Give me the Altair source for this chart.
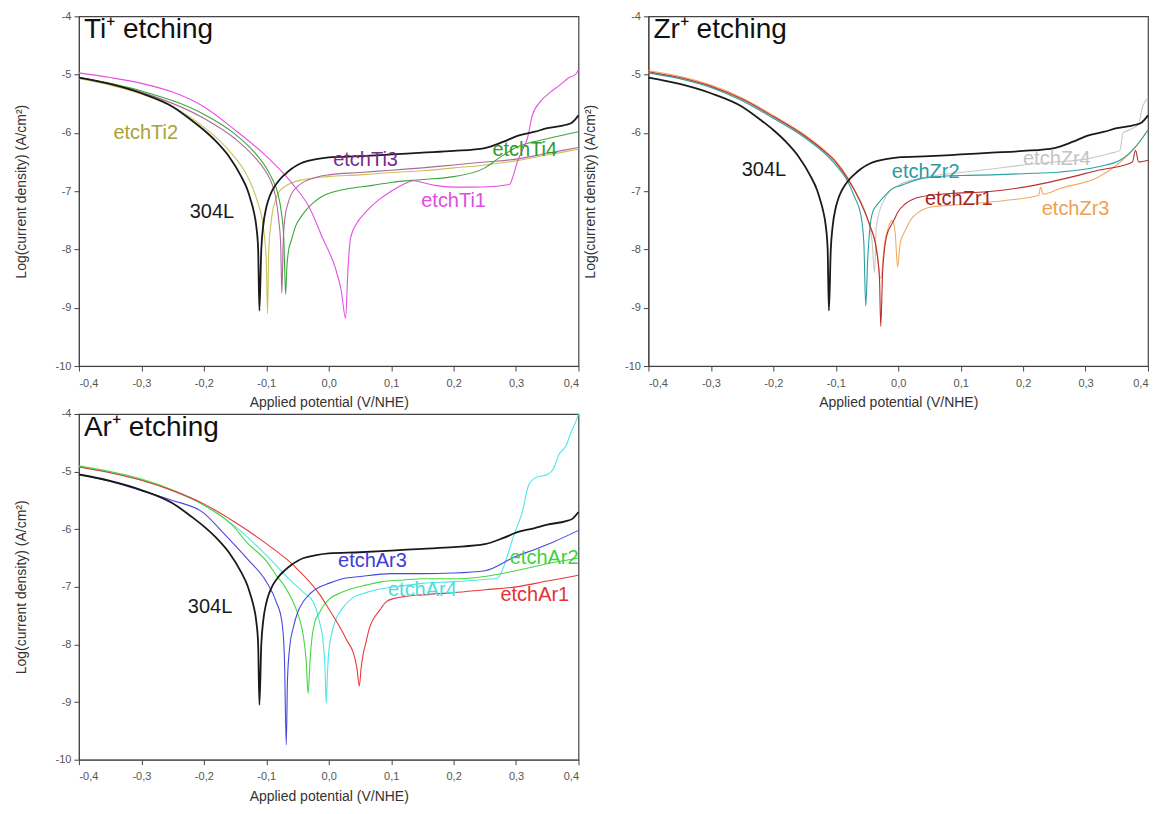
import altair as alt
import pandas as pd

FONT = "Liberation Sans"

# ---------------- reference 304L (same in every panel) ----------------
E_304L = [-0.4, -0.35, -0.3, -0.25, -0.22, -0.2, -0.18, -0.16, -0.14, -0.13, -0.125, -0.12, -0.116, -0.113,
          -0.111, -0.108, -0.105, -0.1, -0.095, -0.09, -0.08, -0.07, -0.06, -0.05, -0.04, -0.02, 0.0,
          0.05, 0.1, 0.15, 0.2, 0.25, 0.28, 0.3, 0.33, 0.35, 0.38, 0.39, 0.4]
L_304L = [-5.05, -5.16, -5.32, -5.55, -5.78, -5.95, -6.15, -6.4, -6.75, -6.98, -7.15, -7.35, -7.6, -8.0,
          -9.05, -8.0, -7.6, -7.28, -7.1, -6.98, -6.82, -6.71, -6.62, -6.55, -6.5, -6.45, -6.42,
          -6.4, -6.37, -6.34, -6.31, -6.26, -6.15, -6.06, -5.98, -5.92, -5.86, -5.82, -5.7]

# ---------------- Ti+ etching ----------------
E_TI1 = [-0.4, -0.35, -0.3, -0.25, -0.2, -0.15, -0.1, -0.06, -0.03, -0.01, 0.01, 0.02, 0.027, 0.031, 0.035,
         0.045, 0.06, 0.08, 0.1, 0.12, 0.136, 0.15, 0.17, 0.2, 0.23, 0.26, 0.29, 0.295, 0.302, 0.31, 0.318,
         0.326, 0.34, 0.355, 0.37, 0.385, 0.395, 0.4]
L_TI1 = [-4.97, -5.05, -5.15, -5.3, -5.55, -5.95, -6.4, -6.85, -7.3, -7.8, -8.3, -8.7, -9.18, -8.3, -7.8,
         -7.55, -7.35, -7.15, -7.0, -6.88, -6.82, -6.85, -6.9, -6.93, -6.93, -6.92, -6.88, -6.75, -6.5,
         -6.3, -6.1, -5.7, -5.45, -5.3, -5.18, -5.05, -5.0, -4.92]
E_TI2 = [-0.4, -0.35, -0.3, -0.25, -0.2, -0.16, -0.13, -0.115, -0.105, -0.1, -0.098, -0.096,
         -0.093, -0.09, -0.085, -0.08, -0.07, -0.06, -0.04, -0.02, 0.0, 0.05, 0.1, 0.15, 0.2, 0.25, 0.3,
         0.35, 0.4]
L_TI2 = [-5.07, -5.18, -5.33, -5.55, -5.9, -6.3, -6.75, -7.15, -7.6, -8.2, -9.1, -8.0, -7.6,
         -7.35, -7.15, -7.02, -6.92, -6.86, -6.8, -6.77, -6.75, -6.72, -6.68, -6.65, -6.6, -6.55, -6.48,
         -6.38, -6.28]
E_TI3 = [-0.4, -0.3, -0.2, -0.15, -0.12, -0.1, -0.09, -0.085, -0.08, -0.077, -0.075, -0.073, -0.07, -0.065,
         -0.06, -0.05, -0.04, -0.02, 0.0, 0.05, 0.1, 0.15, 0.2, 0.25, 0.3, 0.35, 0.4]
L_TI3 = [-5.05, -5.3, -5.75, -6.1, -6.4, -6.68, -6.9, -7.1, -7.5, -7.9, -8.75, -7.9, -7.45, -7.2, -7.05,
         -6.92, -6.84, -6.76, -6.72, -6.68, -6.64, -6.6, -6.55, -6.5, -6.45, -6.35, -6.25]
E_TI4 = [-0.4, -0.3, -0.2, -0.15, -0.12, -0.1, -0.09, -0.082, -0.076, -0.072, -0.069, -0.067, -0.064, -0.06,
         -0.053, -0.045, -0.036, -0.025, -0.012, 0.0, 0.035, 0.07, 0.1, 0.15, 0.2, 0.25, 0.27, 0.3, 0.35, 0.4]
L_TI4 = [-5.05, -5.28, -5.68, -6.02, -6.32, -6.6, -6.8, -7.02, -7.35, -7.8, -8.77, -8.3, -8.0, -7.85,
         -7.6, -7.45, -7.32, -7.2, -7.1, -7.04, -6.95, -6.9, -6.85, -6.8, -6.75, -6.6, -6.45, -6.25, -6.1,
         -5.98]

# ---------------- Zr+ etching ----------------
E_ZR1 = [-0.4, -0.35, -0.3, -0.25, -0.2, -0.15, -0.12, -0.1, -0.08, -0.06, -0.045, -0.035, -0.03, -0.028,
         -0.025, -0.019, -0.012, -0.007, 0.0, 0.011, 0.035, 0.082, 0.142, 0.19, 0.231, 0.28, 0.32, 0.36,
         0.375, 0.38, 0.385, 0.4]
L_ZR1 = [-4.95, -5.05, -5.2, -5.42, -5.72, -6.05, -6.3, -6.5, -6.8, -7.2, -7.6, -8.0, -8.5, -9.32,
         -8.4, -7.79, -7.6, -7.5, -7.35, -7.22, -7.1, -7.04, -7.01, -6.95, -6.87, -6.75, -6.64, -6.56,
         -6.5, -6.3, -6.5, -6.47]
E_ZR2 = [-0.4, -0.35, -0.3, -0.25, -0.2, -0.15, -0.12, -0.1, -0.08, -0.07, -0.06, -0.055, -0.052, -0.049,
         -0.046, -0.041, -0.035, -0.025, -0.01, 0.005, 0.038, 0.053, 0.1, 0.15, 0.2, 0.26, 0.32, 0.355, 0.37,
         0.38, 0.4]
L_ZR2 = [-4.97, -5.07, -5.22, -5.45, -5.75, -6.08, -6.33, -6.55, -6.85, -7.1, -7.4, -7.9, -8.97, -8.2,
         -7.7, -7.36, -7.25, -7.12, -6.96, -6.9, -6.78, -6.76, -6.73, -6.72, -6.7, -6.67, -6.58, -6.47,
         -6.35, -6.24, -5.95]
E_ZR3 = [-0.4, -0.35, -0.3, -0.25, -0.2, -0.15, -0.12, -0.1, -0.08, -0.06, -0.045, -0.035, -0.028, -0.022,
         -0.015, -0.01, -0.005, -0.001, 0.003, 0.011, 0.023, 0.053, 0.112, 0.171, 0.225, 0.228, 0.232, 0.26,
         0.32, 0.35, 0.38, 0.4]
L_ZR3 = [-4.93, -5.03, -5.18, -5.4, -5.7, -6.03, -6.28, -6.48, -6.78, -7.2, -7.6, -7.95, -8.5, -7.9,
         -7.6, -7.5, -7.7, -8.3, -7.9, -7.68, -7.45, -7.27, -7.22, -7.16, -7.07, -6.93, -7.05, -6.95,
         -6.76, -6.55, -6.24, -5.95]
E_ZR4 = [-0.4, -0.35, -0.3, -0.25, -0.2, -0.15, -0.12, -0.1, -0.07, -0.05, -0.042, -0.038, -0.035, -0.02,
         0.0, 0.05, 0.1, 0.15, 0.2, 0.25, 0.3, 0.34, 0.355, 0.36, 0.37, 0.385, 0.39, 0.4]
L_ZR4 = [-4.96, -5.06, -5.21, -5.43, -5.73, -6.06, -6.31, -6.53, -6.98, -7.45, -7.85, -8.4, -7.6, -7.1,
         -6.9, -6.75, -6.68, -6.62, -6.55, -6.5, -6.45, -6.35, -6.3, -6.0, -5.95, -5.85, -5.6, -5.4]

# ---------------- Ar+ etching ----------------
E_AR1 = [-0.4, -0.35, -0.3, -0.25, -0.2, -0.15, -0.1, -0.057, -0.014, 0.0, 0.022, 0.03, 0.039, 0.045, 0.049,
         0.052, 0.055, 0.06, 0.065, 0.072, 0.08, 0.092, 0.105, 0.12, 0.148, 0.2, 0.25, 0.3, 0.35, 0.4]
L_AR1 = [-4.92, -5.02, -5.15, -5.33, -5.56, -5.88, -6.25, -6.62, -7.14, -7.38, -7.78, -7.95, -8.13, -8.4,
         -8.72, -8.4, -8.18, -7.95, -7.72, -7.55, -7.43, -7.26, -7.2, -7.17, -7.14, -7.1, -7.05, -7.0,
         -6.9, -6.8]
E_AR2 = [-0.4, -0.35, -0.3, -0.25, -0.2, -0.15, -0.132, -0.1, -0.084, -0.07, -0.057, -0.047, -0.041, -0.036,
         -0.033, -0.03, -0.027, -0.022, -0.015, -0.01, 0.0, 0.02, 0.037, 0.06, 0.086, 0.12, 0.15, 0.2, 0.25,
         0.3, 0.35, 0.4]
L_AR2 = [-4.9, -5.0, -5.13, -5.32, -5.58, -5.98, -6.22, -6.55, -6.8, -7.0, -7.26, -7.55, -7.83, -8.3,
         -8.85, -8.3, -7.9, -7.6, -7.45, -7.35, -7.22, -7.1, -7.03, -6.97, -6.91, -6.88, -6.86, -6.86, -6.82,
         -6.72, -6.6, -6.5]
E_AR3 = [-0.4, -0.35, -0.3, -0.25, -0.2, -0.17, -0.13, -0.1, -0.084, -0.075, -0.071, -0.068, -0.066,
         -0.062, -0.057, -0.05, -0.041, -0.03, -0.014, 0.0, 0.022, 0.05, 0.1, 0.15, 0.2, 0.25,
         0.3, 0.33, 0.36, 0.4]
L_AR3 = [-5.05, -5.17, -5.33, -5.5, -5.72, -6.05, -6.52, -6.91, -7.26, -7.6, -8.2, -9.74, -8.6,
         -8.0, -7.72, -7.45, -7.26, -7.12, -7.0, -6.94, -6.86, -6.82, -6.77, -6.77, -6.76, -6.72,
         -6.47, -6.35, -6.22, -6.02]
E_AR4 = [-0.4, -0.35, -0.3, -0.25, -0.2, -0.15, -0.1, -0.06, -0.04, -0.025, -0.015, -0.009, -0.006, -0.004,
         -0.002, 0.0, 0.005, 0.012, 0.02, 0.037, 0.06, 0.086, 0.12, 0.15, 0.2, 0.24, 0.27, 0.285, 0.295,
         0.31, 0.32, 0.332, 0.35, 0.36, 0.369, 0.38, 0.388, 0.395, 0.4]
L_AR4 = [-4.92, -5.02, -5.15, -5.33, -5.58, -5.95, -6.45, -6.9, -7.1, -7.26, -7.6, -7.95, -8.4, -9.02,
         -8.5, -8.13, -7.8, -7.55, -7.4, -7.2, -7.1, -7.03, -6.98, -6.94, -6.91, -6.88, -6.85, -6.5, -6.15,
         -5.7, -5.24, -5.1, -5.05, -4.95, -4.7, -4.55, -4.32, -4.15, -4.0]

# ---------------- annotation labels ----------------
TI_LABELS = ["304L", "etchTi2", "etchTi3", "etchTi1", "etchTi4"]
TI_LAB_X = [-0.187, -0.293, 0.059, 0.2, 0.314]
TI_LAB_Y = [-7.36, -6.0, -6.47, -7.16, -6.29]
ZR_LABELS = ["304L", "etchZr2", "etchZr1", "etchZr3", "etchZr4"]
ZR_LAB_X = [-0.215, 0.044, 0.097, 0.284, 0.254]
ZR_LAB_Y = [-6.64, -6.67, -7.13, -7.3, -6.44]
AR_LABELS = ["304L", "etchAr3", "etchAr4", "etchAr2", "etchAr1"]
AR_LAB_X = [-0.19, 0.07, 0.15, 0.345, 0.33]
AR_LAB_Y = [-7.35, -6.55, -7.05, -6.5, -7.15]

X_TICKS = [-0.4, -0.3, -0.2, -0.1, 0.0, 0.1, 0.2, 0.3, 0.4]
Y_TICKS = [-10, -9, -8, -7, -6, -5, -4]

BLACK = "#1a1a1a"

panels = [
    ("Ti⁺ etching",
     [("etchTi2", E_TI2, L_TI2, "#c9c25a"), ("etchTi3", E_TI3, L_TI3, "#b0689a"),
      ("etchTi4", E_TI4, L_TI4, "#3aa83a"), ("etchTi1", E_TI1, L_TI1, "#e650e6"),
      ("304L", E_304L, L_304L, BLACK)],
     TI_LABELS, TI_LAB_X, TI_LAB_Y, [BLACK, "#a9a238", "#7b2c8c", "#e24ce2", "#2f9a2f"], 350),
    ("Zr⁺ etching",
     [("etchZr4", E_ZR4, L_ZR4, "#c8c8c8"), ("etchZr3", E_ZR3, L_ZR3, "#f4aa62"),
      ("etchZr2", E_ZR2, L_ZR2, "#2aa2a2"), ("etchZr1", E_ZR1, L_ZR1, "#bb2e2e"),
      ("304L", E_304L, L_304L, BLACK)],
     ZR_LABELS, ZR_LAB_X, ZR_LAB_Y, [BLACK, "#2a9c9c", "#a82424", "#f0a050", "#c4c4c4"], 350),
    ("Ar⁺ etching",
     [("etchAr4", E_AR4, L_AR4, "#4de6e6"), ("etchAr2", E_AR2, L_AR2, "#44d844"),
      ("etchAr1", E_AR1, L_AR1, "#e83a3a"), ("etchAr3", E_AR3, L_AR3, "#4848e0"),
      ("304L", E_304L, L_304L, BLACK)],
     AR_LABELS, AR_LAB_X, AR_LAB_Y, [BLACK, "#3c3cd8", "#44e0e0", "#3ed23e", "#e23434"], 346),
]

X_LABEL_EXPR = "(datum.value < -0.001 ? '-' : '') + replace(format(abs(datum.value), '.1f'), '.', ',')"
Y_LABEL_EXPR = "(datum.value < 0 ? '-' : '') + format(abs(datum.value), 'd')"


def make_panel(title, series, labels, lab_x, lab_y, lab_colors, height):
    rows = []
    for name, xs, ys, col in series:
        sw = 1.8 if name == "304L" else 1.1
        for i, (xv, yv) in enumerate(zip(xs, ys)):
            rows.append({"series": name, "x": xv, "y": yv, "idx": i, "col": col, "sw": sw})
    df = pd.DataFrame(rows)
    lab_df = pd.DataFrame({"text": labels, "x": lab_x, "y": lab_y, "col": lab_colors})
    title_df = pd.DataFrame({"text": [title], "x": [-0.392], "y": [-4.24]})

    X = alt.X("x:Q", scale=alt.Scale(domain=[-0.4, 0.4], nice=False, zero=False),
              axis=alt.Axis(values=X_TICKS, labelExpr=X_LABEL_EXPR, title="Applied potential (V/NHE)",
                            labelPadding=6, titlePadding=8))
    Y = alt.Y("y:Q", scale=alt.Scale(domain=[-10, -4], nice=False, zero=False),
              axis=alt.Axis(values=Y_TICKS, labelExpr=Y_LABEL_EXPR,
                            title="Log(current density) (A/cm²)", labelPadding=3, titlePadding=27))

    lines = alt.Chart(df).mark_line(interpolate="monotone").encode(
        x=X, y=Y,
        color=alt.Color("col:N", scale=None),
        strokeWidth=alt.StrokeWidth("sw:Q", scale=None),
        detail="series:N",
        order="idx:Q",
    )
    texts = alt.Chart(lab_df).mark_text(font=FONT, fontSize=20, align="center", baseline="middle").encode(
        x=X, y=Y, text="text:N", color=alt.Color("col:N", scale=None))
    ttl = alt.Chart(title_df).mark_text(font=FONT, fontSize=28, align="left", baseline="middle",
                                        color="#111111").encode(x=X, y=Y, text="text:N")
    return alt.layer(lines, texts, ttl).properties(width=500, height=height)


charts = [make_panel(*p) for p in panels]

chart = alt.concat(*charts, columns=2, spacing={"row": 48, "column": 70}, bounds="flush").properties(
    padding={"left": 5, "top": 1, "right": 0, "bottom": 0}
).configure_view(stroke="#444444", strokeWidth=1.2).configure_axis(
    domainColor="#444444", tickColor="#444444", labelColor="#555555", titleColor="#333333",
    labelFont=FONT, titleFont=FONT, labelFontSize=11, titleFontSize=14, titleFontWeight="normal",
    grid=False, tickSize=5,
)

chart.save("out.html", embed_options={"renderer": "svg", "actions": False})
